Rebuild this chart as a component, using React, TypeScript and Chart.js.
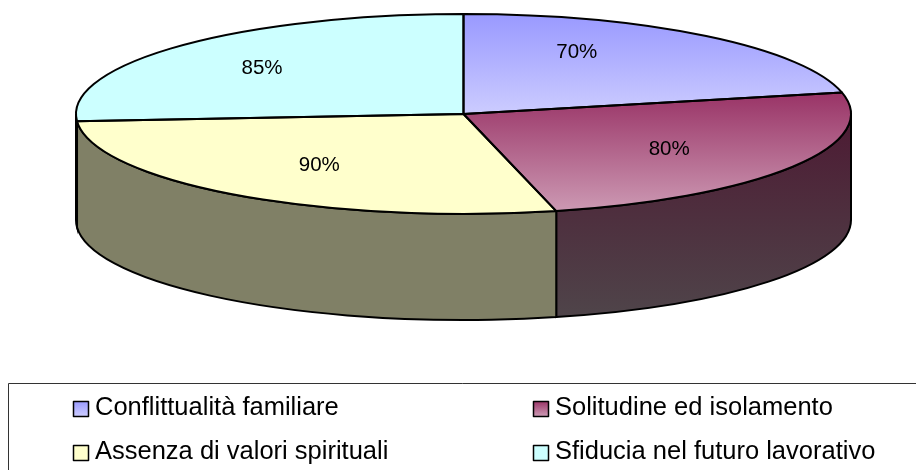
import React, { useEffect, useRef } from "react";
import { Chart, registerables } from "chart.js";

Chart.register(...registerables);

const categories = [
  "Conflittualità familiare",
  "Solitudine ed isolamento",
  "Assenza di valori spirituali",
  "Sfiducia nel futuro lavorativo",
];
const values = [70, 80, 90, 85];
const topStart = ["#9999FF", "#993366", "#FFFFCC", "#CCFFFF"];
const topEnd = ["#CCCCFF", "#CC99B3", "#FFFFCC", "#CCFFFF"];
const wallStart = ["#4D4D80", "#4D1A33", "#808066", "#668080"];
const wallEnd = ["#66668C", "#4F454A", "#808066", "#668080"];
const labelReachX = [0.467, 0.625, 0.633, 0.71];
const labelReachY = [0.8, 0.66, 0.617, 0.69];

const VALUE_FONT = '20.5px "Liberation Sans", Arial, sans-serif';
const LEGEND_FONT = '25.5px "Liberation Sans", Arial, sans-serif';
const STRETCH_X = 3.875;
const DEPTH = 106;
const OUTLINE = 2;

function sliceYRange(i: number, cy: number, r: number) {
  const total = values.reduce((a, b) => a + b, 0);
  const before = values.slice(0, i).reduce((a, b) => a + b, 0);
  const a0 = (before / total) * 2 * Math.PI;
  const a1 = ((before + values[i]) / total) * 2 * Math.PI;
  let lo = Math.min(0, -Math.cos(a0), -Math.cos(a1));
  let hi = Math.max(0, -Math.cos(a0), -Math.cos(a1));
  if (a0 <= 0 && a1 >= 0) lo = -1;
  if (a0 <= Math.PI && a1 >= Math.PI) hi = 1;
  return [cy + lo * r, cy + hi * r];
}

const pie3d = {
  id: "pie3d",
  beforeDatasetsDraw(chart: any) {
    const { ctx } = chart;
    const arcs = chart.getDatasetMeta(0).data;
    const cx = arcs[0].x;
    const cy = arcs[0].y;
    const ry = arcs[0].outerRadius;
    const rx = ry * STRETCH_X;
    // side wall: only the front half of each slice
    arcs.forEach((arc: any, i: number) => {
      const a0 = Math.max(arc.startAngle, 0);
      const a1 = Math.min(arc.endAngle, Math.PI);
      if (a1 <= a0) return;
      const g = ctx.createLinearGradient(0, cy, 0, cy + ry + DEPTH);
      g.addColorStop(0, wallStart[i]);
      g.addColorStop(1, wallEnd[i]);
      ctx.save();
      ctx.beginPath();
      ctx.ellipse(cx, cy, rx, ry, 0, a0, a1);
      ctx.ellipse(cx, cy + DEPTH, rx, ry, 0, a1, a0, true);
      ctx.closePath();
      ctx.fillStyle = g;
      ctx.fill();
      ctx.lineWidth = OUTLINE;
      ctx.strokeStyle = "#000";
      ctx.stroke();
      ctx.restore();
    });
    // top face: the library's own arcs, stretched horizontally
    ctx.save();
    ctx.translate(cx, 0);
    ctx.scale(STRETCH_X, 1);
    ctx.translate(-cx, 0);
  },
  afterDatasetsDraw(chart: any) {
    const { ctx } = chart;
    ctx.restore();
    const arcs = chart.getDatasetMeta(0).data;
    const cx = arcs[0].x;
    const cy = arcs[0].y;
    const ry = arcs[0].outerRadius;
    const rx = ry * STRETCH_X;
    ctx.save();
    ctx.lineWidth = OUTLINE;
    ctx.strokeStyle = "#000";
    ctx.lineJoin = "round";
    arcs.forEach((arc: any) => {
      ctx.beginPath();
      ctx.moveTo(cx, cy);
      ctx.ellipse(cx, cy, rx, ry, 0, arc.startAngle, arc.endAngle);
      ctx.closePath();
      ctx.stroke();
    });
    // value labels
    ctx.font = VALUE_FONT;
    ctx.fillStyle = "#000";
    ctx.textAlign = "center";
    ctx.textBaseline = "middle";
    arcs.forEach((arc: any, i: number) => {
      const mid = (arc.startAngle + arc.endAngle) / 2;
      ctx.fillText(
        `${values[i]}%`,
        cx + Math.cos(mid) * rx * labelReachX[i],
        cy + Math.sin(mid) * ry * labelReachY[i] + 1
      );
    });
    // legend
    ctx.lineWidth = 1;
    ctx.strokeStyle = "#333";
    ctx.strokeRect(8.5, 383.5, 1000, 200);
    ctx.font = LEGEND_FONT;
    ctx.textAlign = "left";
    ctx.textBaseline = "alphabetic";
    categories.forEach((name, i) => {
      const col = i % 2;
      const row = Math.floor(i / 2);
      const x = col === 0 ? 73 : 533;
      const y = row === 0 ? 401 : 445;
      const g = ctx.createLinearGradient(0, y, 0, y + 15);
      g.addColorStop(0, topStart[i]);
      g.addColorStop(1, topEnd[i]);
      ctx.fillStyle = g;
      ctx.fillRect(x + 0.5, y + 0.5, 15, 15);
      ctx.lineWidth = 1.5;
      ctx.strokeStyle = "#000";
      ctx.strokeRect(x + 0.5, y + 0.5, 15, 15);
      ctx.fillStyle = "#000";
      ctx.fillText(name, x + 22, y + 14);
    });
    ctx.restore();
  },
};

export default function App() {
  const ref = useRef<HTMLCanvasElement>(null);
  useEffect(() => {
    document.body.style.margin = "0";
    const canvas = ref.current!;
    const chart = new Chart(canvas, {
      type: "pie",
      data: {
        labels: categories,
        datasets: [
          {
            data: values,
            borderWidth: 0,
            clip: false,
            backgroundColor: (c: any) => {
              const i = c.dataIndex;
              const area = c.chart.chartArea;
              if (i === undefined || !area) return topStart[i ?? 0];
              const r = area.height / 2;
              const [y0, y1] = sliceYRange(i, area.top + r, r);
              const g = c.chart.ctx.createLinearGradient(0, y0, 0, y1);
              g.addColorStop(0, topStart[i]);
              g.addColorStop(1, topEnd[i]);
              return g;
            },
          } as any,
        ],
      },
      options: {
        responsive: false,
        animation: false,
        layout: { padding: { left: 11, top: 14, right: 0, bottom: 256 } },
        plugins: { legend: { display: false }, tooltip: { enabled: false } },
      },
      plugins: [pie3d],
    } as any);
    return () => chart.destroy();
  }, []);
  return (
    <canvas
      ref={ref}
      width={916}
      height={470}
      style={{ display: "block", position: "fixed", left: 0, top: 0, background: "#fff" }}
    />
  );
}
